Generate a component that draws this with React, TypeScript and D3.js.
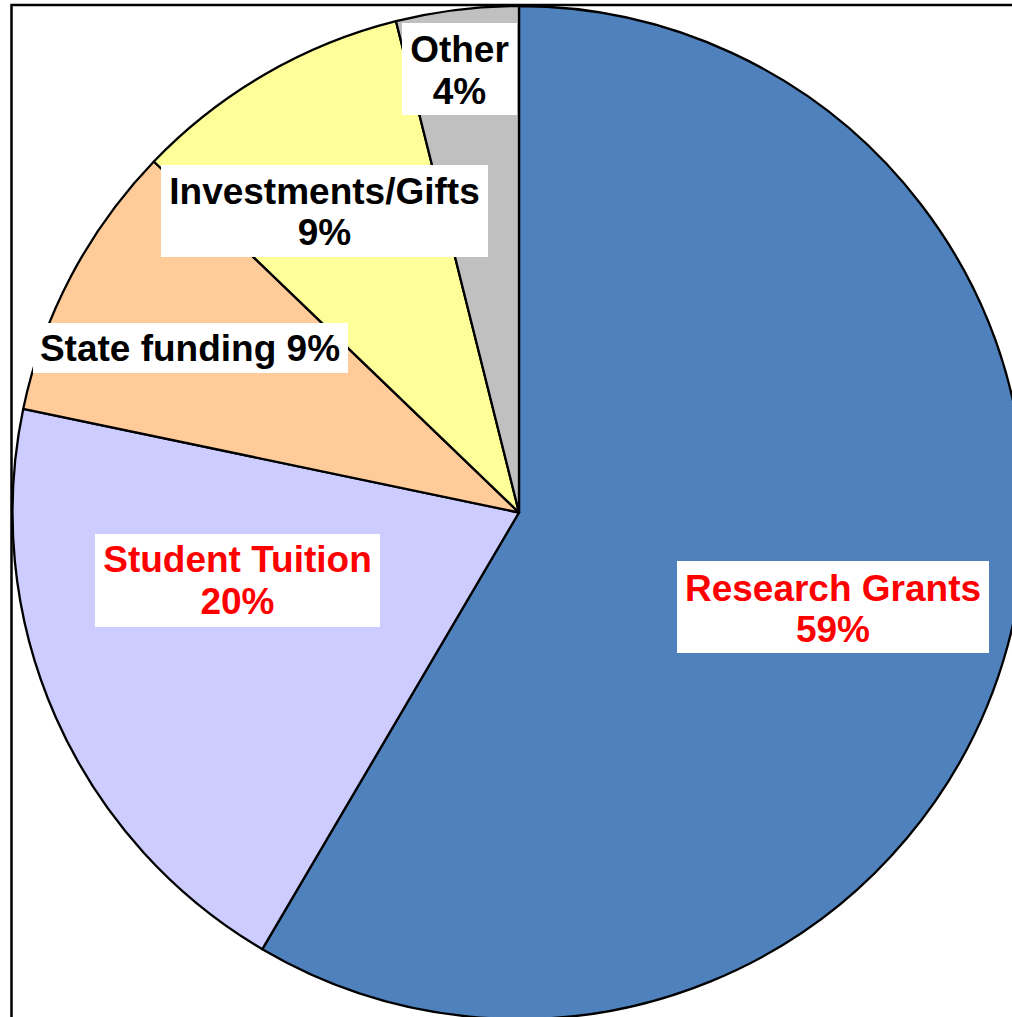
import React from "react";
import * as d3 from "d3";

const categories = ["Research Grants", "Student Tuition", "State funding", "Investments/Gifts", "Other"];
const values = [58.4, 19.8, 8.9, 8.9, 3.9];
const percentLabels = ["59%", "20%", "9%", "9%", "4%"];
const colors = ["#4F81BD", "#CCCCFF", "#FFCC99", "#FFFF99", "#C0C0C0"];
const labelColors = ["#FF0000", "#FF0000", "#000000", "#000000", "#000000"];

// label layout (positions only)
const labelLayout = [
  { lines: 2, cx: 833, y0: 600.5, box: [677, 561, 312, 92] },
  { lines: 2, cx: 237.5, y0: 572, box: [95, 534, 285, 93] },
  { lines: 1, cx: 190, y0: 360.5, box: [33, 323, 315, 50] },
  { lines: 2, cx: 324.5, y0: 203.5, box: [161, 165, 327, 92] },
  { lines: 2, cx: 459.5, y0: 62, box: [402, 23, 115, 92] },
];

const W = 1012;
const H = 1017;
const CX = 519;
const CY = 512.5;
const R = 506.5;

export default function App() {
  const pie = d3.pie<number>().sort(null).value((d) => d);
  const arcs = pie(values);
  const arcGen = d3.arc<d3.PieArcDatum<number>>().innerRadius(0).outerRadius(R);
  const lineH = 41.7;

  return (
    <svg
      width={W}
      height={H}
      style={{ position: "absolute", left: 0, top: 0, display: "block" }}
      fontFamily="Arial, 'Liberation Sans', Helvetica, sans-serif"
    >
      <rect x={0} y={0} width={W} height={H} fill="#ffffff" />
      <g transform={`translate(${CX},${CY})`}>
        {arcs.map((a, i) => (
          <path
            key={i}
            d={arcGen(a) || ""}
            fill={colors[i]}
            stroke="#000"
            strokeWidth={2.3}
            strokeLinejoin="round"
          />
        ))}
      </g>
      <path
        d={`M${W + 10},5 L11.5,5 L11.5,${H + 10}`}
        fill="none"
        stroke="#000"
        strokeWidth={2.5}
      />
      {labelLayout.map((l, i) => {
        const [bx, by, bw, bh] = l.box;
        const lines = l.lines === 2 ? [categories[i], percentLabels[i]] : [`${categories[i]} ${percentLabels[i]}`];
        return (
          <g key={i}>
            <rect x={bx} y={by} width={bw} height={bh} fill="#ffffff" />
            <text
              textAnchor="middle"
              fontWeight="bold"
              fontSize={37}
              fill={labelColors[i]}
            >
              {lines.map((t, j) => (
                <tspan key={j} x={l.cx} y={l.y0 + j * lineH}>
                  {t}
                </tspan>
              ))}
            </text>
          </g>
        );
      })}
    </svg>
  );
}
